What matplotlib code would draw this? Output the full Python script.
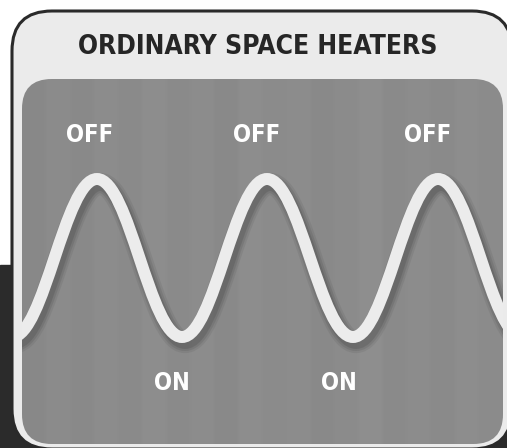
import matplotlib
matplotlib.use("Agg")
import matplotlib.pyplot as plt
from matplotlib.patches import FancyBboxPatch, Rectangle, PathPatch
from matplotlib.path import Path
import numpy as np

# figure is 507x448 px, drawn in pixel coordinates (y down)
W, H = 507, 448

title = "ORDINARY SPACE HEATERS"

# extremes of the wave (x position, y position)
wave_x = [12, 97, 182, 267, 353, 438, 523]
wave_y = [337, 179, 337, 179, 337, 179, 337]

# state labels
label_text = ["OFF", "OFF", "OFF", "ON", "ON"]
label_x = [90, 257, 428, 172, 339]
label_y = [135, 135, 135, 383, 383]

fig = plt.figure(figsize=(W / 100, H / 100), dpi=100)
ax = fig.add_axes([0, 0, 1, 1])
ax.set_xlim(0, W)
ax.set_ylim(H, 0)
ax.axis("off")

# backdrop: white on top, dark below
ax.add_patch(Rectangle((0, 0), W, H, color="white", zorder=0))
ax.add_patch(Rectangle((0, 265), W, H, color="#2b2b2b", zorder=0))

# outer light frame with dark rim
outer = FancyBboxPatch((12, 11), 500, 438, boxstyle="round,pad=0,rounding_size=40",
                       facecolor="#ebebeb", edgecolor="#2a2a2a", linewidth=2.2, zorder=1)
ax.add_patch(outer)

# inner grey panel
inner = FancyBboxPatch((22, 79), 481, 365, boxstyle="round,pad=0,rounding_size=30",
                       facecolor="#8f8f8f", edgecolor="none", zorder=2)
ax.add_patch(inner)

# faint vertical banding
bands = [0, 6, 2, 8, 3, 10, 4, 7, 1, 9, 5, 8, 2, 6, 11, 4, 7, 3, 9, 5]
band = np.repeat(np.array(bands, dtype=float), 6)
tex = np.tile(band, (2, 1))
img = ax.imshow(tex, cmap="gray", vmin=-60, vmax=70, extent=(22, 503, 444, 79),
                aspect="auto", interpolation="bilinear", zorder=3, alpha=0.25)
img.set_clip_path(inner)

# wave: smooth bezier through the extremes
verts = [(wave_x[0], wave_y[0])]
codes = [Path.MOVETO]
for i in range(len(wave_x) - 1):
    dx = wave_x[i + 1] - wave_x[i]
    verts += [(wave_x[i] + 0.38 * dx, wave_y[i]),
              (wave_x[i + 1] - 0.38 * dx, wave_y[i + 1]),
              (wave_x[i + 1], wave_y[i + 1])]
    codes += [Path.CURVE4] * 3
path = Path(verts, codes)

# soft shadow under the wave
for lw, a in [(16, 0.06), (13, 0.08), (10, 0.1)]:
    sh = PathPatch(Path(np.array(verts) + [3, 5], codes), facecolor="none",
                   edgecolor="black", linewidth=lw, alpha=a, zorder=4)
    ax.add_patch(sh)
    sh.set_clip_path(inner)

line = PathPatch(path, facecolor="none", edgecolor="#ececec", linewidth=8.6, zorder=5)
ax.add_patch(line)
line.set_clip_path(inner)

ax.text(258, 47, title, ha="center", va="center", fontsize=19, fontweight="bold",
        family="DejaVu Sans", fontstretch="condensed", color="#262626", zorder=6)

for t, x, y in zip(label_text, label_x, label_y):
    ax.text(x, y, t, ha="center", va="center", fontsize=17, fontweight="bold",
            family="DejaVu Sans", fontstretch="condensed", color="white", zorder=6)

fig.savefig("out.png", dpi=100)
